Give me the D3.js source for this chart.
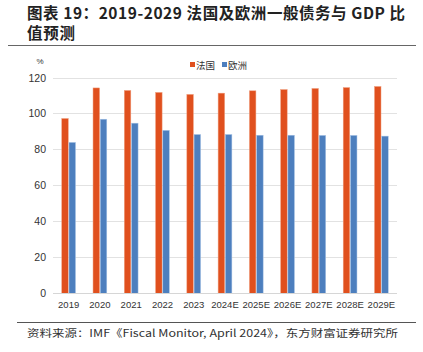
<!DOCTYPE html>
<html>
<head>
<meta charset="utf-8">
<script src="https://cdn.jsdelivr.net/npm/d3@7"></script>
<style>
  body { margin: 0; background: #fff; }
  svg { display: block; }
</style>
</head>
<body>
<div id="chart"></div>
<script>
const years = ['2019', '2020', '2021', '2022', '2023', '2024E', '2025E', '2026E', '2027E', '2028E', '2029E']
const france = [97.2, 114.2, 112.8, 111.7, 110.6, 111.3, 112.6, 113.3, 113.9, 114.4, 115.0]
const europe = [83.9, 96.8, 94.6, 90.6, 88.3, 88.3, 87.9, 87.9, 87.8, 87.8, 87.4]
const seriesNames = ['法国', '欧洲']
const yTicks = [0, 20, 40, 60, 80, 100, 120]

const width = 423
const height = 352
const red = '#E0501E'
const blue = '#4D7FBE'
const cjk = '"Noto Sans CJK SC", "Noto Sans", sans-serif'

const svg = d3.select('#chart').append('svg')
    .attr('width', width)
    .attr('height', height)

// title
const title = svg.append('text')
    .attr('font-family', cjk)
    .attr('font-weight', 'bold')
    .attr('font-size', 15.5)
    .attr('fill', '#222')
title.append('tspan').attr('x', 27).attr('y', 19)
    .attr('textLength', 378).attr('lengthAdjust', 'spacing')
    .text('图表 19：2019-2029 法国及欧洲一般债务与 GDP 比')
title.append('tspan').attr('x', 27).attr('y', 39)
    .attr('textLength', 48).attr('lengthAdjust', 'spacing')
    .text('值预测')

svg.append('line')
    .attr('x1', 8).attr('x2', 416).attr('y1', 45.5).attr('y2', 45.5)
    .attr('stroke', '#666').attr('stroke-width', 1.2)

// plot area
const x = d3.scaleBand().domain(years).range([53, 397]).paddingInner(0.56).paddingOuter(0.28)
const xs = d3.scaleBand().domain(seriesNames).range([0, x.bandwidth()]).paddingInner(0.1)
const y = d3.scaleLinear().domain([0, 120]).range([293.3, 77.5])

svg.append('g').selectAll('line')
    .data(yTicks.slice(1))
    .join('line')
    .attr('x1', 53).attr('x2', 397)
    .attr('y1', d => Math.round(y(d)) + 0.5).attr('y2', d => Math.round(y(d)) + 0.5)
    .attr('stroke', '#e2e2e2')

svg.append('g').selectAll('text')
    .data(yTicks)
    .join('text')
    .attr('x', 46)
    .attr('y', d => y(d) + 4)
    .attr('text-anchor', 'end')
    .attr('font-family', 'Liberation Sans, Arial, sans-serif')
    .attr('font-size', 10.5)
    .attr('fill', '#333')
    .text(d => d)

svg.append('text')
    .attr('x', 40).attr('y', 64)
    .attr('text-anchor', 'middle')
    .attr('font-family', 'Liberation Sans, Arial, sans-serif')
    .attr('font-size', 8)
    .attr('fill', '#333')
    .text('%')

const groups = svg.append('g').selectAll('g')
    .data(years)
    .join('g')
    .attr('transform', d => `translate(${x(d)},0)`)

groups.append('rect')
    .attr('x', xs('法国'))
    .attr('width', xs.bandwidth())
    .attr('y', (d, i) => y(france[i]))
    .attr('height', (d, i) => y(0) - y(france[i]))
    .attr('fill', red)
    .attr('stroke', '#f0a080').attr('stroke-width', 0.5)

groups.append('rect')
    .attr('x', xs('欧洲'))
    .attr('width', xs.bandwidth())
    .attr('y', (d, i) => y(europe[i]))
    .attr('height', (d, i) => y(0) - y(europe[i]))
    .attr('fill', blue)
    .attr('stroke', '#a8c4e6').attr('stroke-width', 0.5)

// baseline
svg.append('line')
    .attr('x1', 53).attr('x2', 397)
    .attr('y1', Math.round(y(0)) + 0.5).attr('y2', Math.round(y(0)) + 0.5)
    .attr('stroke', '#d6d6d6')

svg.append('g').selectAll('text')
    .data(years)
    .join('text')
    .attr('x', d => x(d) + x.bandwidth() / 2)
    .attr('y', 308)
    .attr('text-anchor', 'middle')
    .attr('font-family', 'Liberation Sans, Arial, sans-serif')
    .attr('font-size', 9.5)
    .attr('fill', '#333')
    .text(d => d)

// legend
const legend = svg.append('g').attr('font-family', cjk).attr('font-size', 9.5).attr('fill', '#333')
const legendItems = [{ name: '法国', color: red, x: 190 }, { name: '欧洲', color: blue, x: 222 }]
legendItems.forEach(l => {
    legend.append('rect').attr('x', l.x).attr('y', 62).attr('width', 5).attr('height', 5).attr('fill', l.color)
    legend.append('text').attr('x', l.x + 6).attr('y', 68.5).text(l.name)
})

// source
svg.append('line')
    .attr('x1', 17).attr('x2', 416).attr('y1', 322.5).attr('y2', 322.5)
    .attr('stroke', '#555').attr('stroke-width', 1)

svg.append('text')
    .attr('x', 27).attr('y', 337)
    .attr('font-family', '"Noto Sans CJK SC", "DejaVu Sans Mono", monospace')
    .attr('font-size', 10.5)
    .attr('fill', '#333')
    .attr('textLength', 371)
    .attr('lengthAdjust', 'spacingAndGlyphs')
    .text('资料来源：IMF《Fiscal Monitor, April 2024》，东方财富证券研究所')
</script>
</body>
</html>
